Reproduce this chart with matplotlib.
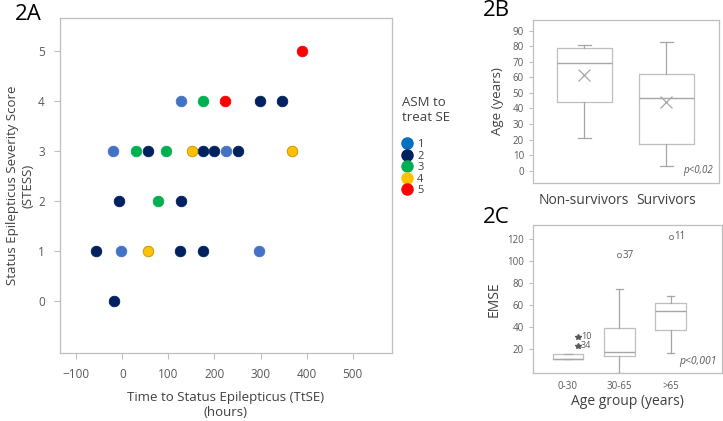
import numpy as np
import matplotlib
matplotlib.use('Agg')
import matplotlib.pyplot as plt
from matplotlib.lines import Line2D

plt.rcParams['font.family'] = ['Open Sans', 'DejaVu Sans']

# ========================= DATA ============================================

# 2A: TtSE (hours) vs STESS, coloured by number of ASM used to treat SE
ttse = [390, 128, 176, 222, 298, 347,
        -19, 30, 55, 94, 151, 175, 199, 225, 250, 368,
        -7, 78, 127,
        -58, -2, 55, 126, 176, 296,
        -17]
stess = [5, 4, 4, 4, 4, 4,
         3, 3, 3, 3, 3, 3, 3, 3, 3, 3,
         2, 2, 2,
         1, 1, 1, 1, 1, 1,
         0]
asm = [5, 1, 3, 5, 2, 2,
       1, 3, 2, 3, 4, 2, 2, 1, 2, 4,
       2, 3, 2,
       2, 1, 4, 2, 2, 1,
       2]
asm_levels = [1, 2, 3, 4, 5]
point_colors = ['#4472C4', '#002060', '#00B050', '#FFC000', '#FF0000']
legend_colors = ['#0070C0', '#002060', '#00B050', '#FFC000', '#FF0000']

# 2B: age by outcome (box stats)
outcome_groups = ['Non-survivors', 'Survivors']
age_whislo = [21, 3]
age_q1 = [44, 17]
age_med = [69, 47]
age_mean = [61.5, 44]
age_q3 = [79, 62]
age_whishi = [81, 83]

# 2C: EMSE by age group (box stats + labelled outliers)
age_groups = ['0-30', '30-65', '>65']
emse_whislo = [11, -2, 16]
emse_q1 = [11, 13, 37]
emse_med = [11, 17, 54]
emse_q3 = [15, 39, 62]
emse_whishi = [15, 74, 68]
extreme_group = [1, 1]
extreme_val = [31, 22.5]
extreme_id = ['10', '34']
outlier_group = [2, 3]
outlier_val = [105, 122]
outlier_id = ['37', '11']

# ========================= STYLE ===========================================

W, H = 723, 421
SPINE = '#BFBFBF'
TICKC = '#595959'
LABC = '#404040'
BOXC = '#BFBFBF'
WHISC = '#A6A6A6'


def px_axes(fig, left, top, right, bottom):
    return fig.add_axes([left / W, 1 - bottom / H, (right - left) / W, (bottom - top) / H])


def frame(ax):
    for s in ax.spines.values():
        s.set_color(SPINE)
        s.set_linewidth(0.9)
    ax.tick_params(colors=SPINE, labelcolor=TICKC, length=3, width=0.8)


fig = plt.figure(figsize=(W / 100, H / 100), dpi=100)

# ========================= 2A ==============================================

ax = px_axes(fig, 60, 18, 392, 353)
frame(ax)
ttse_a = np.array(ttse)
stess_a = np.array(stess)
asm_a = np.array(asm)
for lvl, col in zip(asm_levels, point_colors):
    m = asm_a == lvl
    edge = '#BF9000' if lvl == 4 else col
    ax.scatter(ttse_a[m], stess_a[m], s=58, color=col, edgecolors=edge,
               linewidths=0.6, zorder=3)
ax.set_xlim(-135, 585)
ax.set_ylim(-1.04, 5.66)
ax.set_xticks([-100, 0, 100, 200, 300, 400, 500])
ax.set_yticks([0, 1, 2, 3, 4, 5])
ax.tick_params(labelsize=8.5, length=4, pad=7)
ax.set_xlabel('Time to Status Epilepticus (TtSE)\n(hours)', fontsize=9.5,
              color=LABC, labelpad=7)
ax.set_ylabel('Status Epilepticus Severity Score\n(STESS)', fontsize=9.5,
              color=LABC)
ax.yaxis.set_label_coords(-0.078, 0.5)

handles = [Line2D([], [], marker='o', linestyle='none', markersize=8,
                  markerfacecolor=c, markeredgecolor=c) for c in legend_colors]
leg = fig.legend(handles, [str(l) for l in asm_levels], title='ASM to\ntreat SE\n',
                 loc='upper left', bbox_to_anchor=(396 / W, 1 - 90 / H),
                 frameon=False, fontsize=8, title_fontsize=9.5,
                 handletextpad=0.4, labelspacing=0.05, handlelength=1.0,
                 borderpad=0, alignment='left')
for t in leg.get_texts():
    t.set_color(LABC)
leg.get_title().set_color(LABC)

fig.text(15 / W, 1 - 15 / H, '2A', fontsize=16, va='center', ha='left')

# ========================= 2B ==============================================

ax = px_axes(fig, 533, 20, 719, 183)
frame(ax)
stats = []
for i, name in enumerate(outcome_groups):
    stats.append(dict(label=name, whislo=age_whislo[i], q1=age_q1[i], med=age_med[i],
                      mean=age_mean[i], q3=age_q3[i], whishi=age_whishi[i], fliers=[]))
ax.bxp(stats, positions=[1, 2], widths=0.67, showmeans=True, capwidths=0.16,
       boxprops=dict(color=BOXC, linewidth=0.9),
       medianprops=dict(color=WHISC, linewidth=1.0),
       whiskerprops=dict(color=WHISC, linewidth=0.9),
       capprops=dict(color=WHISC, linewidth=0.9),
       meanprops=dict(marker='x', markersize=8, markeredgecolor=WHISC,
                      markeredgewidth=0.9))
ax.set_xlim(0.374, 2.646)
ax.set_ylim(-8, 97)
ax.set_yticks(np.arange(0, 91, 10))
ax.tick_params(axis='y', labelsize=7)
ax.tick_params(axis='x', length=0, labelsize=10, labelcolor=LABC, pad=7)
ax.set_ylabel('Age (years)', fontsize=9.5, color=LABC, labelpad=6)
ax.text(0.97, 0.04, 'p<0,02', transform=ax.transAxes, ha='right', va='bottom',
        style='italic', fontsize=7, color=TICKC)
fig.text(483 / W, 1 - 10 / H, '2B', fontsize=16, va='center', ha='left')

# ========================= 2C ==============================================

ax = px_axes(fig, 533, 225, 722, 373)
frame(ax)
stats = []
for i, name in enumerate(age_groups):
    stats.append(dict(label=name, whislo=emse_whislo[i], q1=emse_q1[i], med=emse_med[i],
                      q3=emse_q3[i], whishi=emse_whishi[i], fliers=[]))
ax.bxp(stats, positions=[1, 2, 3], widths=0.6, capwidths=0.14, showcaps=True,
       boxprops=dict(color=BOXC, linewidth=0.9),
       medianprops=dict(color=WHISC, linewidth=1.0),
       whiskerprops=dict(color=WHISC, linewidth=0.9),
       capprops=dict(color=WHISC, linewidth=0.9))
for g, v, lab in zip(extreme_group, extreme_val, extreme_id):
    ax.plot(g + 0.2, v, marker='*', markersize=4, color='#595959', linestyle='none')
    ax.text(g + 0.25, v, lab, fontsize=6.5, va='center', ha='left', color=TICKC)
for g, v, lab in zip(outlier_group, outlier_val, outlier_id):
    ax.plot(g, v, marker='o', markersize=3, markerfacecolor='none',
            markeredgecolor='#7F7F7F', markeredgewidth=0.7, linestyle='none')
    ax.text(g + 0.06, v, lab, fontsize=7, va='center', ha='left', color=TICKC)
ax.set_xlim(0.32, 4.0)
ax.set_ylim(-2.2, 132.8)
ax.set_yticks([20, 40, 60, 80, 100, 120])
ax.tick_params(labelsize=7)
ax.tick_params(axis='x', length=0, pad=6)
ax.set_xlabel('Age group (years)', fontsize=10, color=LABC, labelpad=1)
ax.set_ylabel('EMSE', fontsize=10, color=LABC)
ax.text(0.97, 0.04, 'p<0,001', transform=ax.transAxes, ha='right', va='bottom',
        style='italic', fontsize=7.5, color=TICKC)
fig.text(483 / W, 1 - 218 / H, '2C', fontsize=16, va='center', ha='left')

fig.savefig('out.png', dpi=100)
